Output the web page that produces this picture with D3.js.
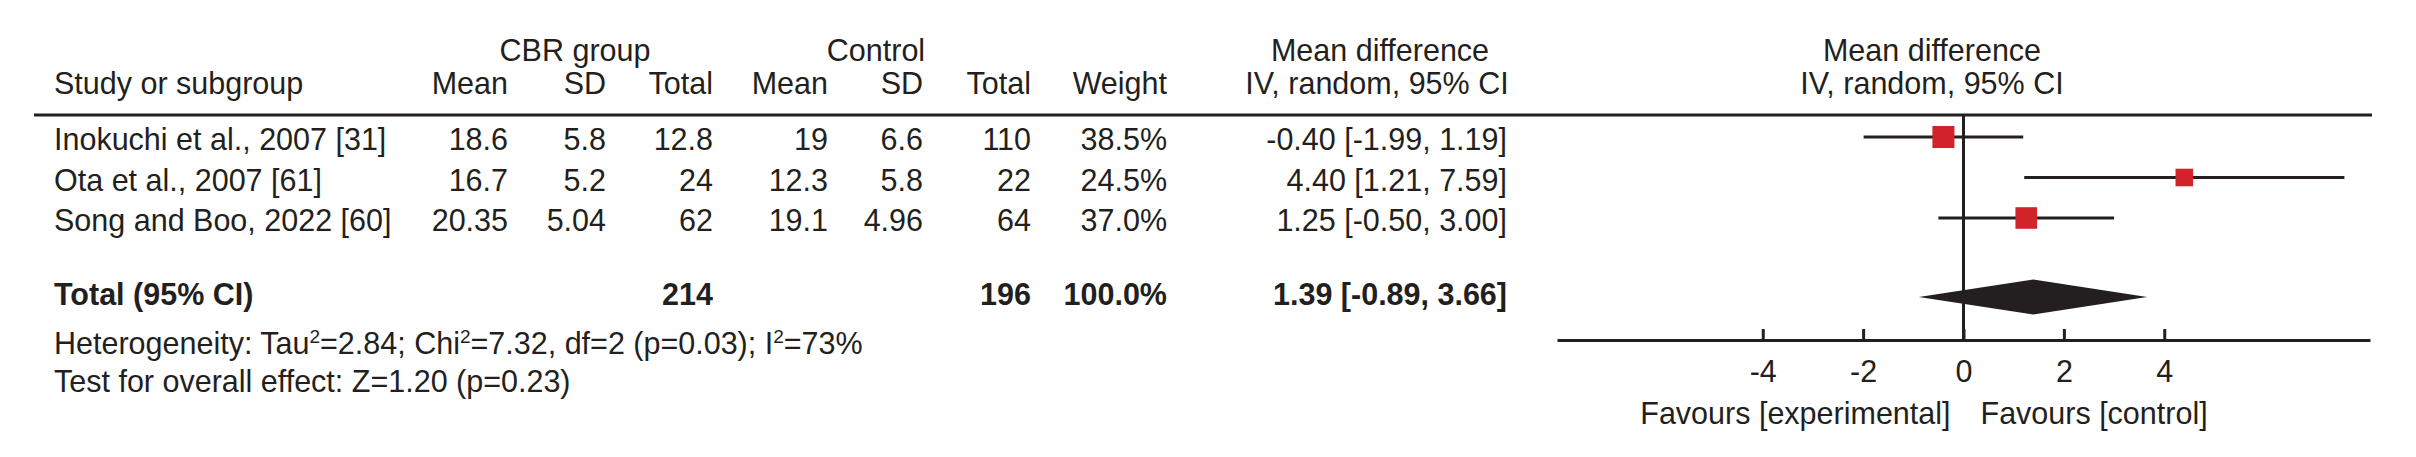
<!DOCTYPE html>
<html>
<head>
<meta charset="utf-8">
<script src="https://cdn.jsdelivr.net/npm/d3@7"></script>
<style>
  html, body { margin: 0; padding: 0; background: #fff; }
  svg text { font-family: "Liberation Sans", Arial, Helvetica, sans-serif; fill: #231f20; }
</style>
</head>
<body>
<svg id="chart" width="2416" height="457"></svg>
<script>
// ---- data ----
const studies   = ["Inokuchi et al., 2007 [31]", "Ota et al., 2007 [61]", "Song and Boo, 2022 [60]"];
const cbrMean   = ["18.6", "16.7", "20.35"];
const cbrSD     = ["5.8", "5.2", "5.04"];
const cbrTotal  = ["12.8", "24", "62"];
const ctrlMean  = ["19", "12.3", "19.1"];
const ctrlSD    = ["6.6", "5.8", "4.96"];
const ctrlTotal = ["110", "22", "64"];
const weights   = [38.5, 24.5, 37.0];
const md        = [-0.40, 4.40, 1.25];
const ciLow     = [-1.99, 1.21, -0.50];
const ciHigh    = [1.19, 7.59, 3.00];

const totalLabel = "Total (95% CI)";
const totalCbrN  = "214";
const totalCtrlN = "196";
const totalWeight = 100.0;
const pooled     = { md: 1.39, lo: -0.89, hi: 3.66 };

const tickValues = [-4, -2, 0, 2, 4];
const axisDomain = [-8.1, 8.1];
const favourLeft = "Favours [experimental]";
const favourRight = "Favours [control]";

// ---- setup ----
const ink = "#231f20";
const red = "#d2232a";
const fs = 30.5;
const svg = d3.select("#chart");

const x = d3.scaleLinear().domain(axisDomain).range([1557, 2370]);
const rowY = d3.scalePoint().domain(d3.range(studies.length)).range([137, 218]);
const yTotal = 297, yHeaderLine = 115, yAxis = 340;
const sq = d3.scaleSqrt().domain([0, 100]).range([0, 35.5]);

// column right edges
const cols = [
  { x: 508, h: "Mean", v: cbrMean },
  { x: 606, h: "SD", v: cbrSD },
  { x: 713, h: "Total", v: cbrTotal },
  { x: 828, h: "Mean", v: ctrlMean },
  { x: 923, h: "SD", v: ctrlSD },
  { x: 1031, h: "Total", v: ctrlTotal },
  { x: 1167, h: "Weight", v: weights.map(w => w.toFixed(1) + "%") },
  { x: 1507, h: "IV, random, 95% CI", v: md.map((m, i) => `${m.toFixed(2)} [${ciLow[i].toFixed(2)}, ${ciHigh[i].toFixed(2)}]`) }
];

function txt(x0, y0, s, anchor, bold) {
  return svg.append("text").attr("x", x0).attr("y", y0)
    .attr("text-anchor", anchor || "start")
    .attr("font-size", fs)
    .attr("font-weight", bold ? "bold" : "normal")
    .text(s);
}

// headers
txt(575, 61, "CBR group", "middle");
txt(876, 61, "Control", "middle");
txt(1380, 61, "Mean difference", "middle");
txt(1932, 61, "Mean difference", "middle");
txt(54, 94, "Study or subgroup");
cols.forEach((c, i) => {
  if (i === cols.length - 1) txt(1377, 94, c.h, "middle");
  else txt(c.x, 94, c.h, "end");
});
txt(1932, 94, "IV, random, 95% CI", "middle");

// header line
svg.append("line").attr("x1", 34).attr("x2", 2372)
  .attr("y1", yHeaderLine).attr("y2", yHeaderLine)
  .attr("stroke", ink).attr("stroke-width", 3);

// study rows
studies.forEach((s, i) => {
  const yb = rowY(i) + 13;
  txt(54, yb, s);
  cols.forEach(c => txt(c.x, yb, c.v[i], "end"));
});

// total row
const ytb = 305;
txt(54, ytb, totalLabel, "start", true);
txt(713, ytb, totalCbrN, "end", true);
txt(1031, ytb, totalCtrlN, "end", true);
txt(1167, ytb, totalWeight.toFixed(1) + "%", "end", true);
txt(1507, ytb, `${pooled.md.toFixed(2)} [${pooled.lo.toFixed(2)}, ${pooled.hi.toFixed(2)}]`, "end", true);

// heterogeneity
const het = svg.append("text").attr("x", 54).attr("y", 354).attr("font-size", fs);
het.append("tspan").text("Heterogeneity: Tau");
het.append("tspan").attr("font-size", 19).attr("dy", -11).text("2");
het.append("tspan").attr("dy", 11).text("=2.84; Chi");
het.append("tspan").attr("font-size", 19).attr("dy", -11).text("2");
het.append("tspan").attr("dy", 11).text("=7.32, df=2 (p=0.03); I");
het.append("tspan").attr("font-size", 19).attr("dy", -11).text("2");
het.append("tspan").attr("dy", 11).text("=73%");
txt(54, 392, "Test for overall effect: Z=1.20 (p=0.23)");

// zero line
svg.append("line").attr("x1", x(0)).attr("x2", x(0))
  .attr("y1", yHeaderLine).attr("y2", yAxis)
  .attr("stroke", ink).attr("stroke-width", 3);

// CI lines
svg.selectAll("line.ci").data(studies).enter().append("line")
  .attr("class", "ci")
  .attr("x1", (d, i) => x(ciLow[i])).attr("x2", (d, i) => x(ciHigh[i]))
  .attr("y1", (d, i) => rowY(i)).attr("y2", (d, i) => rowY(i))
  .attr("stroke", ink).attr("stroke-width", 3);

// squares
svg.selectAll("rect.sq").data(studies).enter().append("rect")
  .attr("class", "sq")
  .attr("x", (d, i) => x(md[i]) - sq(weights[i]) / 2)
  .attr("y", (d, i) => rowY(i) - sq(weights[i]) / 2)
  .attr("width", (d, i) => sq(weights[i]))
  .attr("height", (d, i) => sq(weights[i]))
  .attr("fill", red);

// diamond
const dh = 17.5;
svg.append("path")
  .attr("d", `M${x(pooled.lo)},${yTotal} L${x(pooled.md)},${yTotal - dh} L${x(pooled.hi)},${yTotal} L${x(pooled.md)},${yTotal + dh} Z`)
  .attr("fill", ink);

// axis
const axis = d3.axisBottom(x).tickValues(tickValues)
  .tickFormat(d => String(d))
  .tickSizeInner(-11).tickSizeOuter(0).tickPadding(20);
const g = svg.append("g").attr("transform", `translate(0,${yAxis})`).call(axis);
g.select(".domain").attr("stroke", ink).attr("stroke-width", 3);
g.selectAll(".tick line").attr("stroke", ink).attr("stroke-width", 3);
g.selectAll(".tick text").attr("font-size", fs).attr("fill", ink)
  .attr("font-family", "Liberation Sans, Arial, sans-serif");

// favours labels
txt(x(0) - 13, 424, favourLeft, "end");
txt(x(0) + 17, 424, favourRight, "start");
</script>
</body>
</html>
